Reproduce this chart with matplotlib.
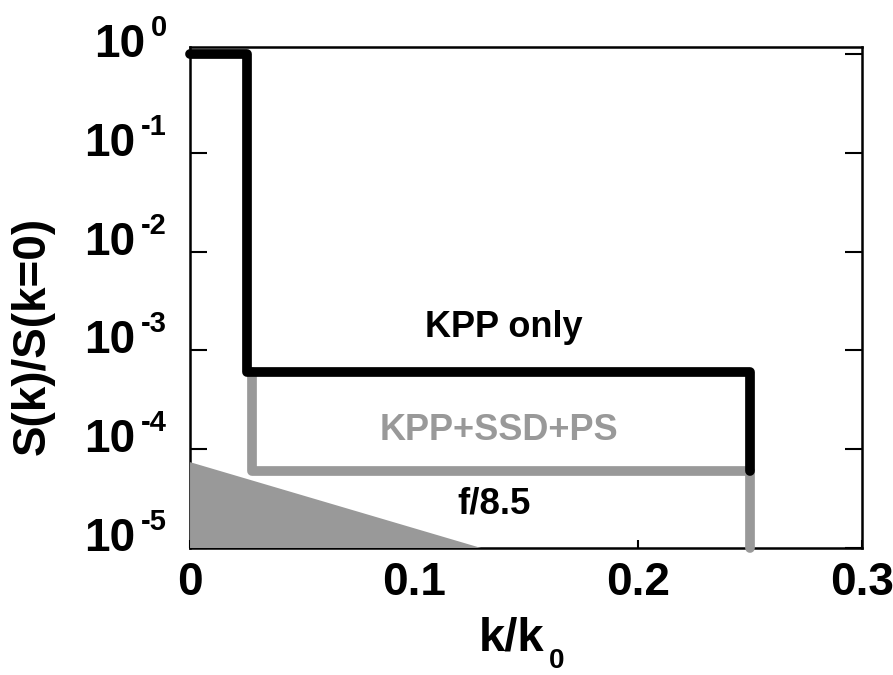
import matplotlib
matplotlib.use("Agg")
import matplotlib.pyplot as plt
from matplotlib.ticker import FixedLocator, NullFormatter, NullLocator

plt.rcParams['font.family'] = ['Liberation Sans', 'DejaVu Sans']
plt.rcParams['font.weight'] = 'bold'

# KPP only
kpp_k = [0, 0.0255, 0.0255, 0.25, 0.25]
kpp_s = [1.0, 1.0, 6.0e-4, 6.0e-4, 6.0e-5]
# KPP+SSD+PS
ssd_k = [0.0275, 0.0275, 0.25, 0.25]
ssd_s = [6.0e-4, 6.0e-5, 6.0e-5, 1e-5]
# f/8.5 triangle
tri_k = [0, 0, 0.13]
tri_s = [1e-5, 7.4e-5, 1e-5]

yticks = [1e0, 1e-1, 1e-2, 1e-3, 1e-4, 1e-5]
yexp = ['0', '-1', '-2', '-3', '-4', '-5']
xticks = [0, 0.1, 0.2, 0.3]
xlabels = ['0', '0.1', '0.2', '0.3']

fig = plt.figure(figsize=(8.93, 6.75), dpi=100)
ax = fig.add_axes([0.2128, 0.1881, 0.7525, 0.7430])

gray = '#999999'
ax.fill(tri_k, tri_s, color=gray, lw=0, zorder=3)
ax.plot(ssd_k, ssd_s, color=gray, lw=7, solid_capstyle='round', solid_joinstyle='round',
        clip_on=False, zorder=4)
ax.plot(kpp_k, kpp_s, color='black', lw=7, solid_capstyle='round', solid_joinstyle='round',
        clip_on=False, zorder=5)

ax.set_yscale('log')
ax.set_xlim(0, 0.3)
ax.set_ylim(1e-5, 1.19)

ax.yaxis.set_major_locator(FixedLocator(yticks))
ax.yaxis.set_major_formatter(NullFormatter())
ax.yaxis.set_minor_locator(NullLocator())
ax.yaxis.set_minor_formatter(NullFormatter())
ax.xaxis.set_major_locator(FixedLocator(xticks))
ax.set_xticklabels(xlabels)

ax.tick_params(axis='y', which='major', direction='in', length=12, width=1.5, right=True)
ax.tick_params(axis='x', which='major', direction='in', length=6, width=1.5,
               top=False, labelsize=33, pad=9)
for s in ax.spines.values():
    s.set_linewidth(1.8)

# y tick labels: "10" plus a raised exponent with a plain hyphen
ytr = ax.get_yaxis_transform()
for t, e in zip(yticks, yexp):
    sup = ax.annotate(e, xy=(0, t), xycoords=ytr, xytext=(-23, 18), textcoords='offset pixels',
                      ha='right', va='baseline', fontsize=21, fontweight='bold', annotation_clip=False)
    ax.annotate('10', xy=(0, t), xycoords=(sup, ytr), xytext=(-6, -3), textcoords='offset pixels',
                ha='right', va='baseline', fontsize=33, fontweight='bold', annotation_clip=False)

ax.text(0.1402, 1.37e-3, 'KPP only', fontsize=26, fontweight='bold', ha='center', va='baseline')
ax.text(0.138, 1.24e-4, 'KPP+SSD+PS', fontsize=26, fontweight='bold', color=gray, ha='center', va='baseline')
ax.text(0.1357, 2.26e-5, 'f/8.5', fontsize=26.5, fontweight='bold', ha='center', va='baseline')

# x label k/k_0
kk = ax.annotate('k/k', xy=(0.5, 0), xycoords='axes fraction', xytext=(-14, -102),
                 textcoords='offset pixels', ha='center', va='baseline', fontsize=34,
                 fontweight='bold', annotation_clip=False)
ax.annotate('0', xy=(1, 0), xycoords=kk, xytext=(4, -8), textcoords='offset pixels',
            ha='left', va='baseline', fontsize=20, fontweight='bold', annotation_clip=False)

fig.text(33 / 893, 1 - 336 / 675, 'S(k)/S(k=0)', rotation=90, ha='center', va='center',
         fontsize=33, fontweight='bold')

fig.savefig('out.png', dpi=100)
